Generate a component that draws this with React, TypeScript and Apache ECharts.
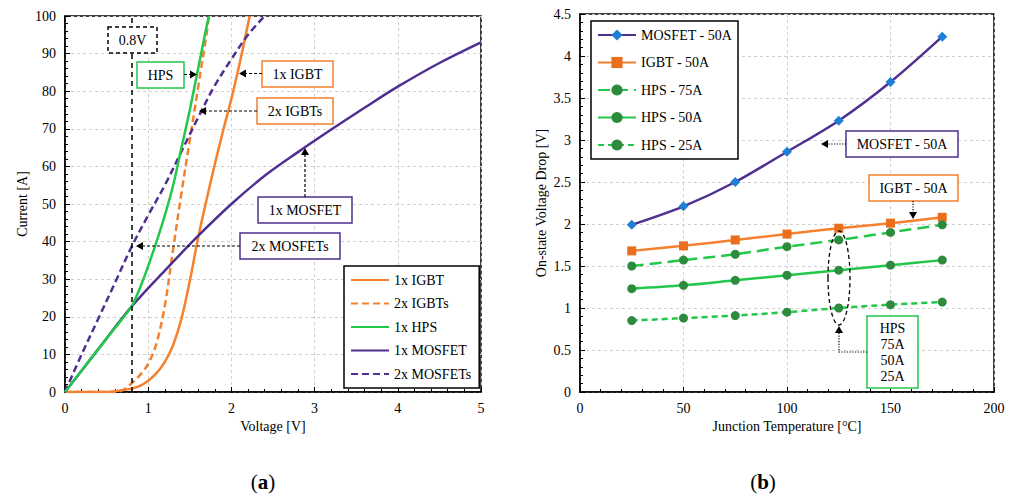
import React, { useEffect, useRef } from "react";
import * as echarts from "echarts";

// ---------- (a) Current vs Voltage ----------
const igbt1V = [0, 0.5, 0.6, 0.7, 0.8, 0.9, 1.0, 1.1, 1.2, 1.3, 1.4, 1.5, 1.6, 1.7, 1.8, 1.9, 2.0, 2.1, 2.22];
const igbt1I = [0, 0, 0.2, 0.5, 0.9, 1.6, 3, 5, 8, 12.5, 19.5, 29.5, 41, 51, 60.5, 69.5, 78, 87.5, 100];

const igbt2V = [0, 0.6, 0.7, 0.8, 0.9, 1.0, 1.1, 1.2, 1.3, 1.4, 1.5, 1.6, 1.7, 1.73];
const igbt2I = [0, 0, 0.6, 2.3, 4.5, 7.5, 13, 23, 38, 53, 67, 81, 95, 100];

const hpsV = [0, 0.2, 0.4, 0.6, 0.8, 0.85, 0.9, 0.95, 1.0, 1.1, 1.2, 1.3, 1.4, 1.5, 1.6, 1.7, 1.73];
const hpsI = [0, 5.7, 11.4, 17, 22.7, 25, 27.6, 30.5, 33.5, 40, 47, 55, 65, 75, 86, 97, 100];

const mos1V = [0, 0.4, 0.8, 1.2, 1.6, 2.0, 2.4, 2.8, 3.2, 3.6, 4.0, 4.5, 5.0];
const mos1I = [0, 11.4, 22.7, 32.3, 41.5, 50, 57.5, 63.8, 69.8, 75.6, 81.2, 87.5, 93];

const mos2V = [0, 0.2, 0.4, 0.6, 0.8, 1.0, 1.2, 1.4, 1.6, 1.8, 2.0, 2.2, 2.4];
const mos2I = [0, 10, 19.5, 29, 38.6, 47, 55, 64, 73, 81.5, 88.5, 95, 100];

const leftNames = ["1x IGBT", "2x IGBTs", "1x HPS", "1x MOSFET", "2x MOSFETs"];
const markVoltage = 0.8;

// ---------- (b) Voltage drop vs Temperature ----------
const temps = [25, 50, 75, 100, 125, 150, 175];
const mosfet50 = [1.99, 2.21, 2.5, 2.86, 3.23, 3.69, 4.23];
const igbt50 = [1.68, 1.74, 1.81, 1.88, 1.95, 2.01, 2.08];
const hps75 = [1.5, 1.57, 1.64, 1.73, 1.81, 1.9, 1.99];
const hps50 = [1.23, 1.27, 1.33, 1.39, 1.45, 1.51, 1.57];
const hps25 = [0.85, 0.88, 0.91, 0.95, 1.0, 1.04, 1.07];
const rightNames = ["MOSFET - 50A", "IGBT - 50A", "HPS - 75A", "HPS - 50A", "HPS - 25A"];

const FONT = "'Liberation Serif', 'Times New Roman', serif";
const ORANGE = "#f5802e";
const ORANGE_MK = "#e96f1f";
const GREEN = "#22c84a";
const DKGREEN = "#2e8b3e";
const PURPLE = "#4f2f8f";
const BLUE = "#1e7fd6";

const zip = (xs: number[], ys: number[]) => xs.map((x, i) => [x, ys[i]]);

function valAxis(gridIndex: number, min: number, max: number, interval: number, name: string, nameGap: number) {
  return {
    type: "value",
    gridIndex,
    min,
    max,
    interval,
    name,
    nameLocation: "middle",
    nameGap,
    nameTextStyle: { fontFamily: FONT, fontSize: 14, color: "#000" },
    axisLine: { show: true, onZero: false, lineStyle: { color: "#000", width: 1.5 } },
    axisTick: { show: true, inside: true, length: 5, lineStyle: { color: "#000" } },
    minorTick: { show: true, splitNumber: 5, length: 3, lineStyle: { color: "#000" } },
    splitLine: { show: true, lineStyle: { color: "#cfcfcf", type: [3, 3] } },
    axisLabel: { fontFamily: FONT, fontSize: 14, color: "#000", margin: 9 },
  };
}

function box(x: number, y: number, w: number, h: number, text: string, stroke: string, dashed = false, lineHeight = 16) {
  return {
    type: "group",
    z: 100,
    children: [
      {
        type: "rect",
        shape: { x, y, width: w, height: h },
        style: { fill: "#fff", stroke, lineWidth: 1.5, lineDash: dashed ? [4, 3] : null },
        z: 100,
      },
      {
        type: "text",
        x: x + w / 2,
        y: y + h / 2,
        style: {
          text,
          fill: "#000",
          font: `14px ${FONT}`,
          align: "center",
          verticalAlign: "middle",
          lineHeight,
        },
        z: 101,
      },
    ],
  };
}

function arrowHead(tx: number, ty: number, dir: "left" | "right" | "up" | "down") {
  const L = 7, W = 4;
  let pts: number[][] = [];
  if (dir === "left") pts = [[tx, ty], [tx + L, ty - W], [tx + L, ty + W]];
  if (dir === "right") pts = [[tx, ty], [tx - L, ty - W], [tx - L, ty + W]];
  if (dir === "up") pts = [[tx, ty], [tx - W, ty + L], [tx + W, ty + L]];
  if (dir === "down") pts = [[tx, ty], [tx - W, ty - L], [tx + W, ty - L]];
  return { type: "polygon", shape: { points: pts }, style: { fill: "#000" }, z: 100 };
}

function dline(points: number[][], dash: number[]) {
  return {
    type: "polyline",
    shape: { points },
    style: { stroke: "#000", lineWidth: 1.2, lineDash: dash, fill: null },
    z: 100,
  };
}

export default function App() {
  const ref = useRef<HTMLDivElement>(null);

  useEffect(() => {
    if (!ref.current) return;
    const chart = echarts.init(ref.current, null, { renderer: "svg" });

    const leftLine = (name: string, data: number[][], color: string, dash: any, z = 2) => ({
      name,
      type: "line",
      xAxisIndex: 0,
      yAxisIndex: 0,
      data,
      symbol: "none",
      showSymbol: false,
      smooth: 0.35,
      z,
      lineStyle: { color, width: 2.5, type: dash },
      itemStyle: { color },
    });

    const rightLine = (name: string, vals: number[], color: string, dash: any, symbol: string, mk: string, size: number) => ({
      name,
      type: "line",
      xAxisIndex: 1,
      yAxisIndex: 1,
      data: zip(temps, vals),
      symbol,
      symbolSize: size,
      smooth: 0.3,
      lineStyle: { color, width: 2.5, type: dash },
      itemStyle: { color: mk },
    });

    const s1 = leftLine(leftNames[0], zip(igbt1V, igbt1I), ORANGE, "solid") as any;
    s1.markLine = {
      silent: true,
      symbol: ["none", "none"],
      label: { show: false },
      lineStyle: { color: "#000", type: [5, 4], width: 1.5 },
      data: [{ xAxis: markVoltage }],
    };

    const option: any = {
      animation: false,
      backgroundColor: "#fff",
      grid: [
        { left: 65, top: 16, width: 416, height: 376, show: true, borderColor: "#000", borderWidth: 1.5, backgroundColor: "transparent" },
        { left: 580, top: 14, width: 414, height: 378, show: true, borderColor: "#000", borderWidth: 1.5, backgroundColor: "transparent" },
      ],
      xAxis: [valAxis(0, 0, 5, 1, "Voltage [V]", 26), valAxis(1, 0, 200, 50, "Junction Temperature [°C]", 26)],
      yAxis: [valAxis(0, 0, 100, 10, "Current [A]", 36), valAxis(1, 0, 4.5, 0.5, "On-state Voltage Drop [V]", 32)],
      legend: [
        {
          data: leftNames,
          left: 344,
          top: 266,
          orient: "vertical",
          itemWidth: 38,
          itemHeight: 14,
          itemGap: 9.5,
          padding: [7, 8, 7, 6],
          borderColor: "#000",
          borderWidth: 1.5,
          backgroundColor: "#fff",
          selectedMode: false,
          itemStyle: { color: "rgba(0,0,0,0)", borderColor: "rgba(0,0,0,0)", borderWidth: 0, opacity: 0 },
          textStyle: { fontFamily: FONT, fontSize: 14, color: "#000" },
        },
        {
          data: rightNames,
          left: 591,
          top: 21,
          orient: "vertical",
          itemWidth: 38,
          itemHeight: 14,
          itemGap: 13.5,
          padding: [7, 6, 7, 6],
          borderColor: "#000",
          borderWidth: 1.5,
          backgroundColor: "#fff",
          selectedMode: false,
          textStyle: { fontFamily: FONT, fontSize: 14, color: "#000" },
        },
      ],
      series: [
        s1,
        leftLine(leftNames[1], zip(igbt2V, igbt2I), ORANGE, [7, 4]),
        leftLine(leftNames[2], zip(hpsV, hpsI), GREEN, "solid", 4),
        leftLine(leftNames[3], zip(mos1V, mos1I), PURPLE, "solid"),
        leftLine(leftNames[4], zip(mos2V, mos2I), PURPLE, [7, 4]),
        rightLine(rightNames[0], mosfet50, PURPLE, "solid", "diamond", BLUE, 10),
        rightLine(rightNames[1], igbt50, ORANGE, "solid", "rect", ORANGE_MK, 9),
        rightLine(rightNames[2], hps75, GREEN, [12, 6], "circle", DKGREEN, 9),
        rightLine(rightNames[3], hps50, GREEN, "solid", "circle", DKGREEN, 9),
        rightLine(rightNames[4], hps25, GREEN, [6, 4], "circle", DKGREEN, 9),
      ],
      graphic: [
        // left chart annotations
        box(108, 27, 49, 26, "0.8V", "#000", true),
        box(137, 62, 47, 26, "HPS", GREEN),
        dline([[184, 74.5], [190, 74.5]], [3, 2]),
        arrowHead(197, 74.5, "right"),
        box(262, 61, 71, 26, "1x IGBT", ORANGE),
        dline([[262, 73.5], [246, 73.5]], [3, 2]),
        arrowHead(239, 73.5, "left"),
        box(257, 98, 76, 26, "2x IGBTs", ORANGE),
        dline([[257, 111], [206, 111]], [3, 2]),
        arrowHead(199, 111, "left"),
        box(258, 197, 94, 26, "1x MOSFET", PURPLE),
        dline([[305, 197], [305, 155]], [3, 2]),
        arrowHead(305, 148, "up"),
        box(240, 233, 100, 26, "2x MOSFETs", PURPLE),
        dline([[240, 246], [143, 246]], [3, 2]),
        arrowHead(136, 246, "left"),
        // right chart annotations
        box(846, 131, 112, 26, "MOSFET - 50A", PURPLE),
        dline([[846, 144], [828, 144]], [1.2, 1.5]),
        arrowHead(821, 144, "left"),
        box(869, 175, 89, 26, "IGBT - 50A", ORANGE),
        dline([[913, 201], [913, 212]], [1.2, 1.5]),
        arrowHead(913, 219, "down"),
        {
          type: "ellipse",
          shape: { cx: 839, cy: 278, rx: 11, ry: 47 },
          style: { fill: null, stroke: "#000", lineWidth: 1.3, lineDash: [4, 3] },
          z: 100,
        },
        box(867, 316, 51, 72, "HPS\n75A\n50A\n25A", GREEN),
        dline([[867, 352], [839, 352], [839, 333]], [1.2, 1.5]),
        arrowHead(839, 326, "up"),
        // captions
        {
          type: "text",
          x: 263,
          y: 482,
          style: {
            text: "{n|(}{b|a}{n|)}",
            align: "center",
            verticalAlign: "middle",
            rich: {
              n: { fontFamily: FONT, fontSize: 21, fill: "#000" },
              b: { fontFamily: FONT, fontSize: 21, fontWeight: "bold", fill: "#000" },
            },
          },
          z: 100,
        },
        {
          type: "text",
          x: 763,
          y: 482,
          style: {
            text: "{n|(}{b|b}{n|)}",
            align: "center",
            verticalAlign: "middle",
            rich: {
              n: { fontFamily: FONT, fontSize: 21, fill: "#000" },
              b: { fontFamily: FONT, fontSize: 21, fontWeight: "bold", fill: "#000" },
            },
          },
          z: 100,
        },
      ],
    };

    chart.setOption(option);
    return () => chart.dispose();
  }, []);

  return (
    <div
      ref={ref}
      style={{ position: "absolute", left: 0, top: 0, width: 1014, height: 500, background: "#fff" }}
    />
  );
}
